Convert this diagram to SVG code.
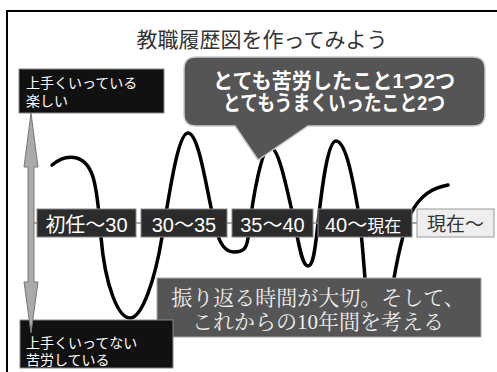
<svg xmlns="http://www.w3.org/2000/svg" width="497" height="372" viewBox="0 0 497 372">
<style>
.jp{font-family:"Liberation Sans","Noto Sans CJK JP",sans-serif;}
.lbl{fill:#fff;font-size:14px;}
.tl{fill:#2b2b2b;stroke:#888;stroke-width:1;}
.tlt{fill:#fff;font-size:20px;text-anchor:middle;}
.curve{fill:none;stroke:#000;stroke-width:3.5;stroke-linecap:round;stroke-linejoin:round;}
</style>
<rect x="0" y="0" width="497" height="372" fill="#fff"/>
<rect x="7" y="11" width="500" height="380" fill="none" stroke="#000" stroke-width="2"/>
<text class="jp" x="262" y="47" font-size="21" fill="#333" text-anchor="middle">教職履歴図を作ってみよう</text>

<g id="connectors">
<path class="curve" d="M52,165 C65,154 85,152 93,177 C97,190 99,210 101,237 C105,285 118,318 130,318 C142,318 155,280 162,237 C170,190 178,133 188,133 C198,133 205,180 212,212 C217,238 222,252 234,252 C245,252 247,248 249,232 C253,195 262,147 270,147 C279,147 287,190 294,220 C299,245 302,266 308,266 C313,266 315,250 317,232 C321,195 327,141 336,141 C346,141 353,180 359,215 C363,245 364,270 366,290 C369,312 388,312 392,290 C396,265 402,235 410,215 C420,195 432,188 448,185"/>
<line x1="31" y1="223" x2="417" y2="223" stroke="#888" stroke-width="1.5"/>
</g>

<g id="timeline">
<g id="t1"><rect class="tl" x="37" y="209" width="99" height="28"/><text class="jp tlt" x="86.5" y="232">初任～30</text></g>
<g id="t2"><rect class="tl" x="141" y="209" width="86" height="28"/><text class="jp tlt" x="184" y="232">30～35</text></g>
<g id="t3"><rect class="tl" x="232" y="209" width="81" height="28"/><text class="jp tlt" x="272.5" y="232">35～40</text></g>
<g id="t4"><rect class="tl" x="318" y="209" width="94" height="28"/><text class="jp" x="325" y="232" fill="#fff" font-size="20">40～<tspan font-size="17">現在</tspan></text></g>
<g id="t5"><rect x="417" y="209" width="77" height="28" fill="#eee" stroke="#999" stroke-width="1"/><text class="jp" x="455.5" y="231" fill="#333" font-size="19" text-anchor="middle">現在～</text></g>
</g>

<g id="bubble">
<path d="M196,57 H473 Q485,57 485,69 V114 Q485,126 473,126 H308 L258,160 L235,126 H196 Q184,126 184,114 V69 Q184,57 196,57 Z" fill="#555" stroke="#ccc" stroke-width="1.5"/>
<text class="jp" x="334" y="88" fill="#fff" font-size="21" font-weight="bold" text-anchor="middle" textLength="242" lengthAdjust="spacingAndGlyphs">とても苦労したこと1つ2つ</text>
<text class="jp" x="334" y="110" fill="#fff" font-size="21" font-weight="bold" text-anchor="middle" textLength="222" lengthAdjust="spacingAndGlyphs">とてもうまくいったこと2つ</text>
</g>

<g id="note">
<rect x="157" y="278" width="324" height="59" fill="#555" stroke="#aaa" stroke-width="1"/>
<text x="318" y="305" fill="#eee" font-size="21" text-anchor="middle" style="font-family:'Liberation Serif','Noto Serif CJK JP','Noto Sans CJK JP',serif">振り返る時間が大切。そして、</text>
<text x="318" y="329" fill="#eee" font-size="21" text-anchor="middle" style="font-family:'Liberation Serif','Noto Serif CJK JP','Noto Sans CJK JP',serif">これからの10年間を考える</text>
</g>

<g id="good">
<rect x="19" y="69" width="145" height="44" fill="#111" stroke="#888" stroke-width="1"/>
<text class="jp lbl" x="26" y="88">上手くいっている</text>
<text class="jp lbl" x="26" y="106">楽しい</text>
</g>

<g id="bad">
<rect x="20" y="320" width="153" height="48" fill="#111" stroke="#888" stroke-width="1"/>
<text class="jp lbl" x="26" y="348">上手くいってない</text>
<text class="jp lbl" x="26" y="365">苦労している</text>
</g>

<g id="axis">
<path d="M31,113 L38,167 L34,167 L34,282 L38,282 L31,333 L24,282 L28,282 L28,167 L24,167 Z" fill="#aaa" stroke="#777" stroke-width="1"/>
</g>
</svg>
